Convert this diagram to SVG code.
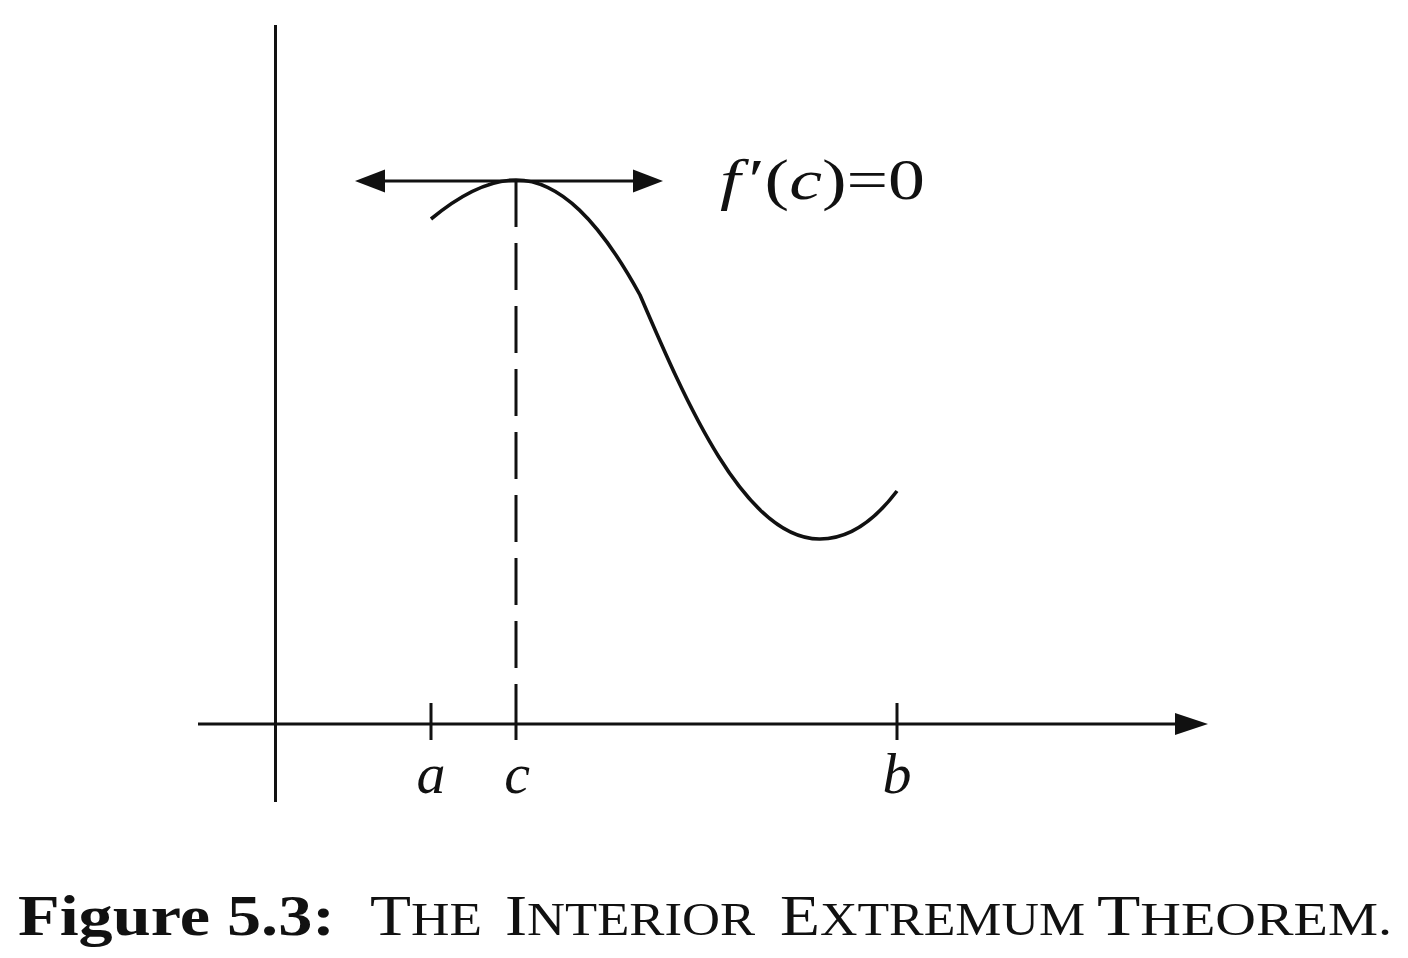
<svg xmlns="http://www.w3.org/2000/svg" width="1408" height="958" viewBox="0 0 1408 958">
<style>
.ln{stroke:#111;stroke-width:3;fill:none}
.cv{stroke:#111;stroke-width:3.6;fill:none}
.ah{fill:#111;stroke:none}
.m{font-family:'Liberation Serif','Times New Roman',Tinos,serif;fill:#111}
.i{font-style:italic}
</style>
<rect width="1408" height="958" fill="#fff"/>
<g id="axes">
<line class="ln" x1="275.5" y1="25" x2="275.5" y2="802"/>
<line class="ln" x1="198" y1="724" x2="1180" y2="724"/>
<polygon class="ah" points="1208,724 1175,713 1175,735"/>
<line class="ln" x1="431" y1="703" x2="431" y2="740"/>
<line class="ln" x1="897" y1="703" x2="897" y2="740"/>
<line class="ln" x1="516" y1="724" x2="516" y2="740"/>
</g>
<g id="connectors">
<line class="ln" x1="516" y1="180" x2="516" y2="724" stroke-dasharray="47 16"/>
<line class="ln" x1="380" y1="181" x2="640" y2="181"/>
<polygon class="ah" points="355,181 385,169.5 385,192.5"/>
<polygon class="ah" points="663,181 633,169.5 633,192.5"/>
</g>
<g id="curve">
<path class="cv" d="M431,219 C460,195 490,180 516,180 C560,180 600,222 640,295 C685,400 745,540 820,539 C850,539 875,520 897,491"/>
</g>
<g id="labels">
<text class="m" x="720" y="199" font-size="56" textLength="205" lengthAdjust="spacingAndGlyphs"><tspan class="i">f</tspan><tspan dx="6">′</tspan>(<tspan class="i">c</tspan>)=0</text>
<text class="m i" x="431" y="793" font-size="58" text-anchor="middle">a</text>
<text class="m i" x="517" y="793" font-size="58" text-anchor="middle">c</text>
<text class="m i" x="897" y="793" font-size="58" text-anchor="middle">b</text>
</g>
<g id="caption">
<text class="m" x="18" y="935" font-size="58" font-weight="bold" textLength="317" lengthAdjust="spacingAndGlyphs">Figure 5.3:</text>
<text class="m" x="370" y="935" font-size="58" textLength="112" lengthAdjust="spacingAndGlyphs">T<tspan font-size="46">HE</tspan></text>
<text class="m" x="505" y="935" font-size="58" textLength="250" lengthAdjust="spacingAndGlyphs">I<tspan font-size="46">NTERIOR</tspan></text>
<text class="m" x="780" y="935" font-size="58" textLength="305" lengthAdjust="spacingAndGlyphs">E<tspan font-size="46">XTREMUM</tspan></text>
<text class="m" x="1097" y="935" font-size="58" textLength="295" lengthAdjust="spacingAndGlyphs">T<tspan font-size="46">HEOREM.</tspan></text>
</g>
</svg>
